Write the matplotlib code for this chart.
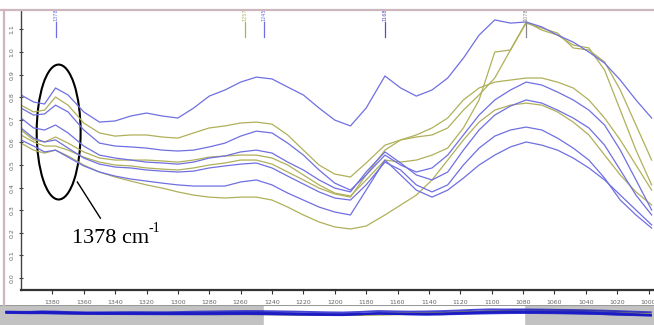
import numpy as np
import matplotlib
matplotlib.use("Agg")
import matplotlib.pyplot as plt
from matplotlib.patches import Ellipse
from matplotlib.lines import Line2D

# ── Datos: espectros IR (número de onda en cm-1, absorbancia) ──────────
wn = [1400, 1392, 1385, 1378, 1370, 1360, 1350, 1340, 1330, 1320, 1310,
      1300, 1290, 1280, 1270, 1260, 1250, 1240, 1230, 1220, 1210, 1200,
      1190, 1180, 1168, 1158, 1148, 1138, 1128, 1118, 1108, 1098, 1088,
      1078, 1068, 1058, 1048, 1038, 1028, 1018, 1008, 998]

# espectros en azul
abs_a = [0.810, 0.779, 0.770, 0.841, 0.810, 0.735, 0.690, 0.695, 0.717, 0.730, 0.717,
         0.708, 0.752, 0.805, 0.832, 0.867, 0.889, 0.881, 0.845, 0.810, 0.752, 0.699,
         0.673, 0.752, 0.894, 0.841, 0.805, 0.832, 0.885, 0.973, 1.075, 1.142, 1.128,
         1.133, 1.111, 1.075, 1.044, 1.000, 0.951, 0.876, 0.788, 0.708]
abs_c = [0.752, 0.721, 0.726, 0.765, 0.735, 0.655, 0.597, 0.584, 0.580, 0.575, 0.566,
         0.562, 0.566, 0.580, 0.597, 0.628, 0.650, 0.642, 0.597, 0.544, 0.478, 0.420,
         0.389, 0.456, 0.544, 0.500, 0.469, 0.487, 0.544, 0.633, 0.721, 0.788, 0.832,
         0.867, 0.854, 0.823, 0.788, 0.743, 0.677, 0.566, 0.434, 0.301]
abs_d = [0.708, 0.664, 0.655, 0.677, 0.642, 0.584, 0.544, 0.531, 0.522, 0.513, 0.509,
         0.504, 0.513, 0.531, 0.540, 0.558, 0.566, 0.553, 0.513, 0.478, 0.434, 0.398,
         0.381, 0.469, 0.558, 0.509, 0.456, 0.434, 0.469, 0.566, 0.655, 0.721, 0.761,
         0.788, 0.774, 0.743, 0.708, 0.664, 0.588, 0.478, 0.367, 0.279]
abs_f = [0.664, 0.619, 0.602, 0.611, 0.575, 0.531, 0.504, 0.491, 0.487, 0.478, 0.473,
         0.469, 0.473, 0.487, 0.496, 0.504, 0.509, 0.487, 0.451, 0.416, 0.381, 0.354,
         0.345, 0.412, 0.513, 0.478, 0.412, 0.381, 0.412, 0.500, 0.575, 0.628, 0.655,
         0.668, 0.655, 0.619, 0.575, 0.522, 0.442, 0.345, 0.279, 0.221]
abs_i = [0.611, 0.584, 0.558, 0.566, 0.535, 0.496, 0.469, 0.451, 0.438, 0.429, 0.420,
         0.412, 0.407, 0.407, 0.407, 0.425, 0.434, 0.412, 0.376, 0.345, 0.314, 0.292,
         0.279, 0.389, 0.522, 0.456, 0.389, 0.358, 0.389, 0.442, 0.500, 0.544, 0.580,
         0.602, 0.588, 0.566, 0.531, 0.487, 0.434, 0.367, 0.301, 0.235]

# espectros en verde oliva
abs_b = [0.765, 0.735, 0.743, 0.801, 0.765, 0.686, 0.642, 0.628, 0.633, 0.633, 0.624,
         0.619, 0.642, 0.664, 0.673, 0.686, 0.690, 0.681, 0.633, 0.566, 0.500, 0.460,
         0.447, 0.509, 0.588, 0.611, 0.624, 0.633, 0.664, 0.743, 0.810, 0.885, 1.009,
         1.128, 1.106, 1.084, 1.018, 1.009, 0.956, 0.832, 0.677, 0.522]
abs_g = [0.655, 0.611, 0.602, 0.624, 0.597, 0.558, 0.531, 0.522, 0.522, 0.522, 0.518,
         0.513, 0.522, 0.535, 0.540, 0.544, 0.544, 0.531, 0.500, 0.456, 0.412, 0.376,
         0.363, 0.434, 0.522, 0.513, 0.522, 0.544, 0.575, 0.664, 0.788, 1.000, 1.009,
         1.133, 1.097, 1.075, 1.031, 1.018, 0.920, 0.743, 0.566, 0.412]
abs_h = [0.633, 0.602, 0.584, 0.584, 0.566, 0.535, 0.513, 0.500, 0.496, 0.487, 0.482,
         0.478, 0.487, 0.500, 0.509, 0.522, 0.522, 0.504, 0.469, 0.434, 0.398, 0.372,
         0.358, 0.456, 0.566, 0.611, 0.633, 0.664, 0.708, 0.788, 0.841, 0.867, 0.876,
         0.885, 0.885, 0.867, 0.841, 0.788, 0.708, 0.611, 0.500, 0.389]
abs_j = [0.597, 0.566, 0.553, 0.566, 0.540, 0.500, 0.469, 0.447, 0.429, 0.412, 0.398,
         0.381, 0.367, 0.358, 0.354, 0.358, 0.358, 0.345, 0.314, 0.279, 0.248, 0.226,
         0.217, 0.230, 0.279, 0.323, 0.367, 0.434, 0.522, 0.611, 0.690, 0.743, 0.765,
         0.774, 0.765, 0.735, 0.690, 0.633, 0.544, 0.456, 0.381, 0.323]

azules = [abs_a, abs_c, abs_d, abs_f, abs_i]
olivas = [abs_b, abs_g, abs_h, abs_j]

# picos marcados arriba
picos = [1378, 1257, 1245, 1168, 1078]
picos_txt = ['1378', '1257', '1245', '1168', '1078']

x_ticks = list(range(1380, 999, -20))
y_ticks = [round(0.1 * k, 1) for k in range(12)]

AZUL = '#6f6fe2'
OLIVA = '#b0b05a'
MARCO = '#cdb6be'

# ── Figura ──────────────────────────────────────────────
fig = plt.figure(figsize=(6.54, 3.25), dpi=100)
fig.patch.set_facecolor('white')

ax = fig.add_axes([21 / 654, 1 - 290 / 325, 1 - 21 / 654, 280 / 325])
for serie in olivas:
    ax.plot(wn, serie, color=OLIVA, lw=0.9)
for serie in azules:
    ax.plot(wn, serie, color=AZUL, lw=0.9)

ax.set_xlim(1400, 996.5)
ax.set_ylim(-0.053, 1.186)
ax.spines['top'].set_visible(False)
ax.spines['right'].set_visible(False)
ax.spines['left'].set_color('#444444')
ax.spines['left'].set_linewidth(1.0)
ax.spines['bottom'].set_color('#333333')
ax.spines['bottom'].set_linewidth(1.6)

ax.set_xticks(x_ticks)
ax.set_xticklabels([str(v) for v in x_ticks])
ax.set_yticks(y_ticks)
ax.set_yticklabels([f'{v:.1f}' for v in y_ticks], rotation=90, va='center')
ax.tick_params(axis='x', direction='out', length=3, width=0.8, pad=4,
               labelsize=4.5, labelcolor='#666666', color='#333333')
ax.tick_params(axis='y', direction='inout', length=3, width=0.8, pad=3,
               labelsize=4.5, labelcolor='#666666', color='#444444')

# marcadores de picos en la parte superior
col_picos = [AZUL, OLIVA, AZUL, '#5050c0', '#888888']
for w, txt, c in zip(picos, picos_txt, col_picos):
    ax.plot([w, w], [1.066, 1.133], color=c, lw=0.9)
    ax.text(w, 1.138, txt, rotation=90, ha='center', va='bottom',
            fontsize=3.5, color=c)

# elipse y rótulo de la banda 1378
ax.add_patch(Ellipse((1376, 0.646), 28, 0.597, fill=False,
                     edgecolor='black', lw=1.5))
ax.plot([1364.1, 1349.4], [0.425, 0.265], color='black', lw=1.0)
ax.text(1367.3, 0.155, '1378 cm', ha='left', va='baseline', fontsize=16,
        family='Liberation Serif', color='black')
ax.text(1318.9, 0.205, '-1', ha='left', va='baseline', fontsize=10,
        family='Liberation Serif', color='black')

# ── Vista general inferior ─────────────────────────────
ov = fig.add_axes([0, 0, 1, 20 / 325])
ov.set_facecolor('#c2c2c2')
ov.axvspan(1239, 1077, color='white', zorder=0)
for serie in olivas:
    ov.plot(wn, serie, color='#a0a050', lw=0.7)
for serie in azules:
    ov.plot(wn, serie, color='#1a1ac8', lw=1.4, alpha=0.8)
ov.set_xlim(1404, 996)
ov.set_ylim(-1.2, 1.8)
ov.set_xticks([])
ov.set_yticks([])
for s in ov.spines.values():
    s.set_visible(False)
ov.axhline(1.8, color='#9a9a9a', lw=1.5)

# marco exterior
fig.add_artist(Line2D([0, 1], [1 - 10 / 325, 1 - 10 / 325], color=MARCO, lw=1.6,
                      transform=fig.transFigure))
fig.add_artist(Line2D([4 / 654, 4 / 654], [20 / 325, 1 - 10 / 325], color=MARCO,
                      lw=1.6, transform=fig.transFigure))

plt.savefig('out.png', dpi=100)
